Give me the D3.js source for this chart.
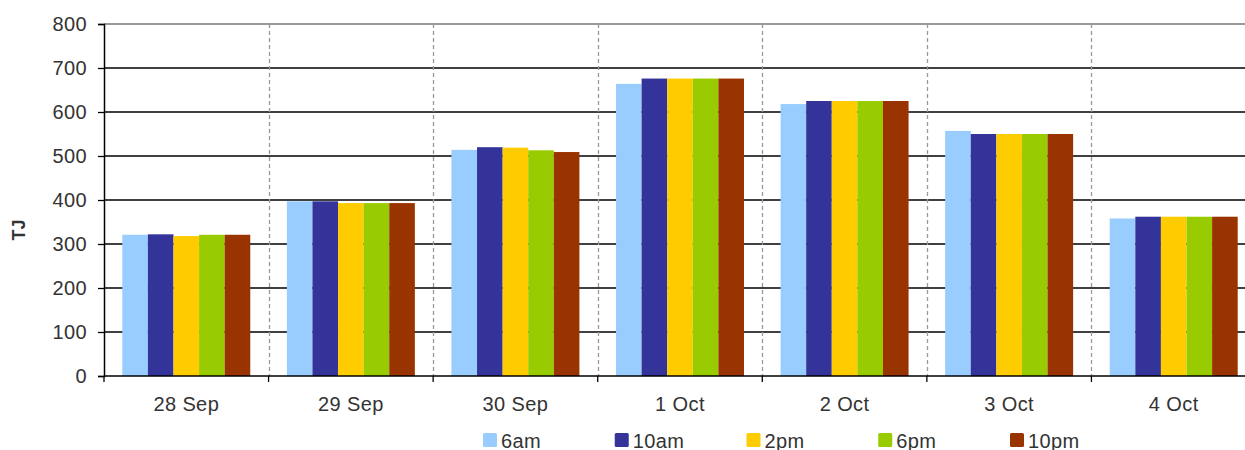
<!DOCTYPE html>
<html>
<head>
<meta charset="utf-8">
<script src="https://cdn.jsdelivr.net/npm/d3@7"></script>
<style>
  html, body { margin: 0; padding: 0; background: #fff; }
  svg { display: block; font-family: "Liberation Sans", Arial, sans-serif; }
  .lbl { font-size: 20px; letter-spacing: 0.4px; fill: #333; }
</style>
</head>
<body>
<svg id="chart" width="1245" height="450"></svg>
<script>
// Daily demand (TJ) sampled at five times of day
const days = ["28 Sep", "29 Sep", "30 Sep", "1 Oct", "2 Oct", "3 Oct", "4 Oct"];
const times = ["6am", "10am", "2pm", "6pm", "10pm"];
const v6am  = [321, 397, 514, 664, 618, 557, 358];
const v10am = [322, 397, 520, 676, 625, 550, 362];
const v2pm  = [318, 393, 519, 676, 625, 550, 362];
const v6pm  = [321, 393, 513, 676, 625, 550, 362];
const v10pm = [321, 393, 509, 676, 625, 550, 362];
const yTicks = [0, 100, 200, 300, 400, 500, 600, 700, 800];
const colors = ["#99CCFF", "#333399", "#FFCC00", "#99CC00", "#993300"];

const seriesValues = [v6am, v10am, v2pm, v6pm, v10pm];
const rows = days.map((d, i) => ({ day: d, vals: times.map((t, j) => ({ time: t, value: seriesValues[j][i] })) }));

const svg = d3.select("#chart");
const plotLeft = 104, plotTop = 24, plotBottom = 376, plotRight = 1256;

const x = d3.scaleBand().domain(days).range([plotLeft, plotRight]).padding(0);
const groupPad = 18.3;
const xInner = d3.scaleBand().domain(times)
  .range([groupPad, x.bandwidth() - groupPad]).padding(0);
const y = d3.scaleLinear().domain([0, 800]).range([plotBottom, plotTop]);

// horizontal gridlines
svg.append("g").selectAll("line").data(yTicks.filter(t => t > 0)).join("line")
  .attr("x1", plotLeft).attr("x2", plotRight)
  .attr("y1", d => y(d)).attr("y2", d => y(d))
  .attr("stroke", d => d === 800 ? "#777" : "#000").attr("stroke-width", 1.5);

// dashed separators between days
svg.append("g").selectAll("line").data(days.slice(1)).join("line")
  .attr("x1", d => Math.round(x(d)) + 0.5).attr("x2", d => Math.round(x(d)) + 0.5)
  .attr("y1", plotTop).attr("y2", plotBottom)
  .attr("stroke", "#999").attr("stroke-width", 1.3).attr("stroke-dasharray", "4,3");

// bars
const groups = svg.append("g").selectAll("g").data(rows).join("g")
  .attr("transform", d => `translate(${x(d.day)},0)`);
groups.selectAll("rect").data(d => d.vals).join("rect")
  .attr("x", d => xInner(d.time))
  .attr("width", xInner.bandwidth())
  .attr("y", d => y(d.value))
  .attr("height", d => y(0) - y(d.value))
  .attr("fill", (d, i) => colors[i]);

// y axis
const yAxis = d3.axisLeft(y).tickValues(yTicks).tickSize(6).tickPadding(11);
const gy = svg.append("g").attr("transform", `translate(${plotLeft},0)`).call(yAxis);
gy.select(".domain").attr("stroke", "#000").attr("stroke-width", 1.5);
gy.selectAll(".tick line").attr("stroke", "#000").attr("stroke-width", 1.3);
gy.selectAll(".tick text").attr("class", "lbl").attr("fill", null)
  .style("font-family", "Liberation Sans, Arial, sans-serif");

// x axis with ticks at day boundaries
const gx = svg.append("g").attr("transform", `translate(0,${plotBottom})`);
gx.append("line").attr("x1", plotLeft).attr("x2", plotRight).attr("y1", 0).attr("y2", 0)
  .attr("stroke", "#000").attr("stroke-width", 1.5);
gx.selectAll("line.tk").data(days).join("line").attr("class", "tk")
  .attr("x1", d => x(d)).attr("x2", d => x(d)).attr("y1", 0).attr("y2", 6)
  .attr("stroke", "#000").attr("stroke-width", 1.3);
gx.selectAll("text").data(days).join("text").attr("class", "lbl")
  .attr("x", d => x(d) + x.bandwidth() / 2).attr("y", 35)
  .attr("text-anchor", "middle")
  .text(d => d);

// y axis title
svg.append("text").attr("transform", "translate(25,230) rotate(-90)")
  .attr("text-anchor", "middle").attr("fill", "#333")
  .style("font-size", "18px").style("font-weight", "bold").text("TJ");

// legend
const legendX = d3.scalePoint().domain(times).range([483, 1010]);
const lg = svg.append("g").selectAll("g").data(times).join("g")
  .attr("transform", d => `translate(${legendX(d)},433)`);
lg.append("rect").attr("width", 14).attr("height", 14).attr("rx", 1.5)
  .attr("fill", (d, i) => colors[i]);
lg.append("text").attr("class", "lbl").attr("x", 18).attr("y", 15)
  .text(d => d);
</script>
</body>
</html>
